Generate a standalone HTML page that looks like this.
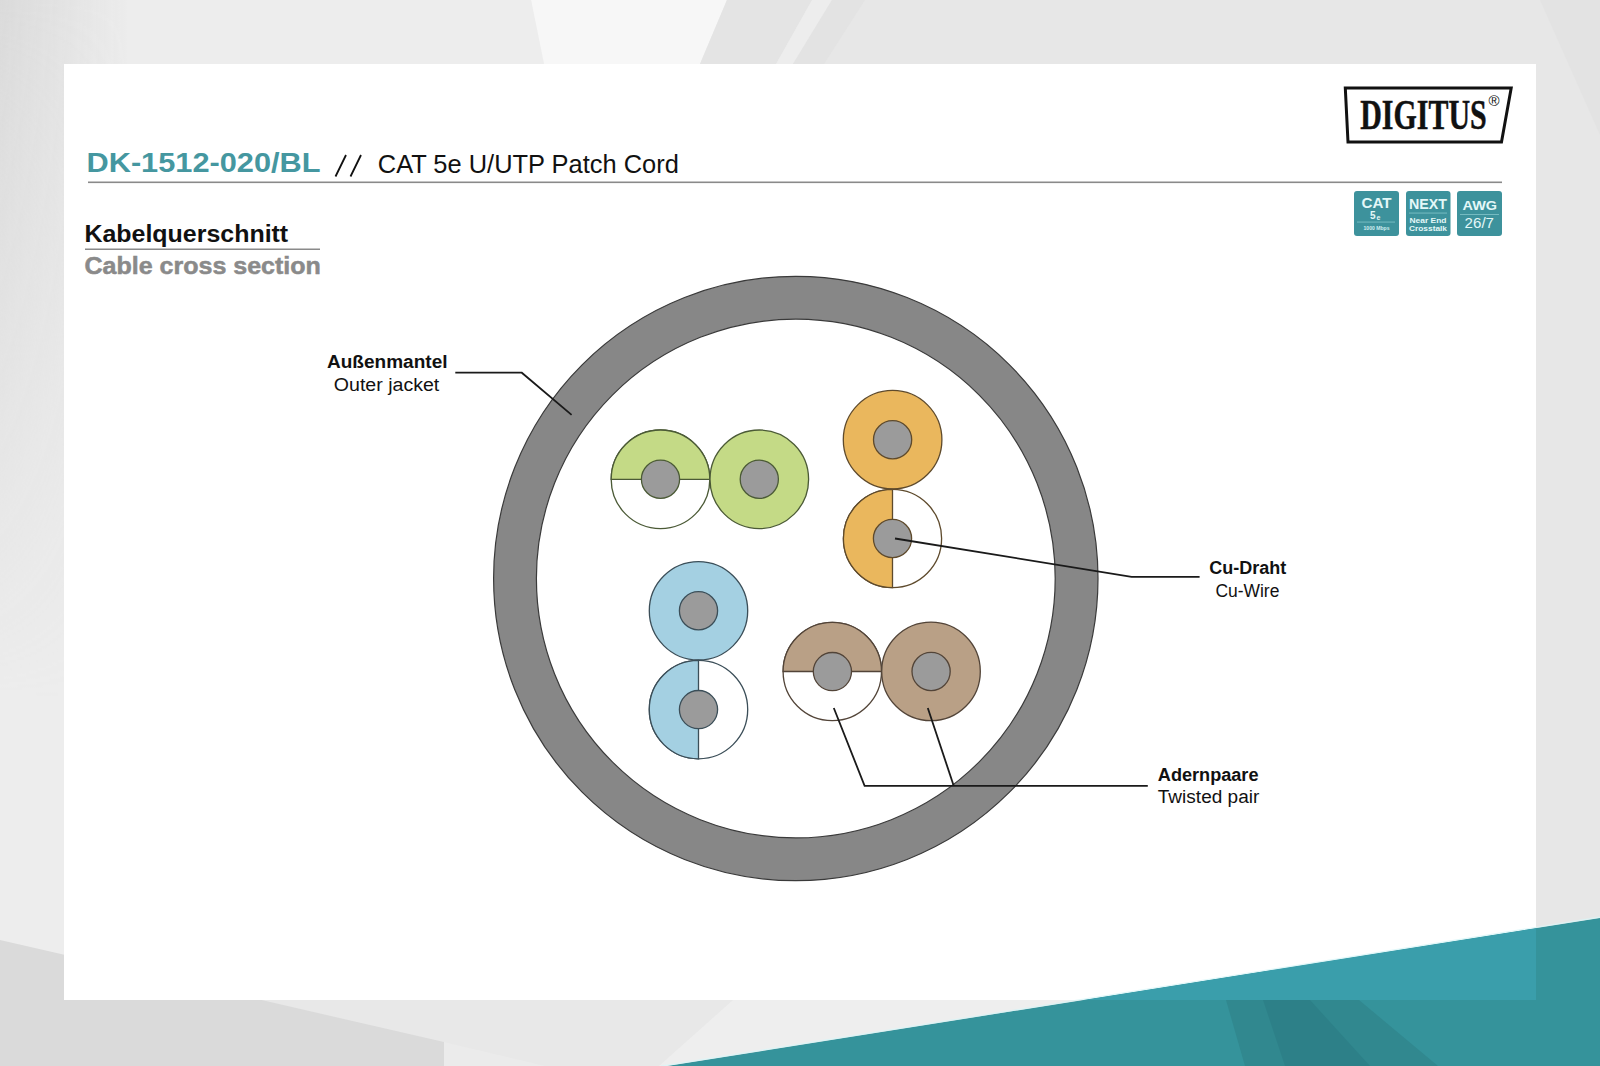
<!DOCTYPE html>
<html><head><meta charset="utf-8">
<style>
html,body{margin:0;padding:0;width:1600px;height:1066px;overflow:hidden;background:#e6e6e6;}
svg{display:block;position:absolute;left:0;top:0;}
text{font-family:"Liberation Sans",sans-serif;}
.serif{font-family:"Liberation Serif",serif;}
</style></head>
<body>
<svg width="1600" height="1066" viewBox="0 0 1600 1066">
<defs>
  <linearGradient id="lg" gradientUnits="userSpaceOnUse" x1="0" y1="0" x2="130" y2="0">
    <stop offset="0" stop-color="#c4c4c4" stop-opacity="0.45"/>
    <stop offset="1" stop-color="#c4c4c4" stop-opacity="0"/>
  </linearGradient>
  <linearGradient id="lgv" gradientUnits="userSpaceOnUse" x1="0" y1="0" x2="0" y2="700">
    <stop offset="0" stop-color="#fff" stop-opacity="1"/>
    <stop offset="1" stop-color="#fff" stop-opacity="0"/>
  </linearGradient>
  <mask id="mv"><rect x="0" y="0" width="200" height="1066" fill="url(#lgv)"/></mask>
  <clipPath id="panelclip"><rect x="64" y="64" width="1472" height="936"/></clipPath>
</defs>
<!-- background -->
<rect x="0" y="0" width="1600" height="1066" fill="#e7e7e7"/>
<polygon points="0,0 531,0 560,140 0,140" fill="#ededed"/>
<rect x="0" y="0" width="64" height="1000" fill="#ededed"/>
<rect x="0" y="0" width="140" height="1000" fill="url(#lg)" mask="url(#mv)"/>
<polygon points="531,0 727,0 700,64 544,64" fill="#f7f7f7"/>
<polygon points="727,0 812,0 776,64 700,64" fill="#e4e4e4"/>
<polygon points="812,0 832,0 793,64 776,64" fill="#ededed"/>
<polygon points="832,0 865,0 824,64 793,64" fill="#e3e3e3"/>
<polygon points="1540,0 1600,0 1600,135" fill="#e3e3e3"/>
<polygon points="0,990 1600,990 1600,1066 0,1066" fill="#e8e8e8"/>
<polygon points="0,940 444,1042 444,1066 0,1066" fill="#dadada"/>
<polygon points="444,1042 545,1066 444,1066" fill="#ebebeb"/>
<polygon points="733,1000 1074,1000 667,1066 659,1066" fill="#eeeeee"/>
<!-- panel -->
<rect x="64" y="64" width="1472" height="936" fill="#ffffff"/>
<!-- teal band -->
<polygon points="661,1067 1600,918 1600,1066" fill="#35939b"/>
<polygon points="1226,1000 1359,1000 1438,1066 1245,1066" fill="#31888f"/>
<polygon points="1263,1000 1310,1000 1370,1066 1285,1066" fill="#2d8088"/>
<polygon points="661,1067 1600,918 1600,1066" fill="#3a9eab" clip-path="url(#panelclip)"/>
<line x1="661" y1="1066.2" x2="1600" y2="917.2" stroke="#d9f6f8" stroke-width="1.2" opacity="0.8"/>

<!-- logo -->
<polygon points="1345.3,88 1511.2,88 1501.5,142 1348,142" fill="none" stroke="#111" stroke-width="3"/>
<text class="serif" x="1360.2" y="128.8" font-size="42" font-weight="bold" fill="#111" stroke="#111" stroke-width="0.5" textLength="126.5" lengthAdjust="spacingAndGlyphs">DIGITUS</text>
<text x="1488.5" y="105.5" font-size="15" fill="#111">®</text>

<!-- title -->
<text x="86.5" y="172.3" font-size="28" font-weight="bold" fill="#4597a0" textLength="234" lengthAdjust="spacingAndGlyphs">DK-1512-020/BL</text>
<path d="M335.5,176.5 L346,155 M350.5,176.5 L361,155" stroke="#111" stroke-width="1.8" fill="none"/>
<text x="377.8" y="172.5" font-size="25" fill="#111" textLength="301" lengthAdjust="spacingAndGlyphs">CAT 5e U/UTP Patch Cord</text>
<rect x="88" y="181.5" width="1414" height="1.6" fill="#8a8a8a"/>

<!-- badges -->
<g>
  <rect x="1354" y="191" width="45" height="45" rx="3" fill="#3d929c"/>
  <rect x="1406" y="191" width="44.5" height="45" rx="3" fill="#3d929c"/>
  <rect x="1457" y="191" width="45" height="45" rx="3" fill="#3d929c"/>
  <g fill="#e4f8f8" font-weight="bold">
  <text x="1361.5" y="207.9" font-size="14" textLength="30" lengthAdjust="spacingAndGlyphs">CAT</text>
  <text x="1370" y="218.7" font-size="10">5</text><text x="1376.5" y="219.5" font-size="7">e</text>
  <rect x="1357" y="221.6" width="38" height="0.9" fill="#7cc0c6"/>
  <text x="1363.5" y="230.4" font-size="4.5" textLength="26" lengthAdjust="spacingAndGlyphs" fill="#cfeef0">1000 Mbps</text>
  <text x="1409" y="208.5" font-size="14.5" textLength="38" lengthAdjust="spacingAndGlyphs">NEXT</text>
  <rect x="1409" y="212.6" width="38" height="0.9" fill="#7cc0c6"/>
  <text x="1409.5" y="222.6" font-size="7" textLength="37" lengthAdjust="spacingAndGlyphs">Near End</text>
  <text x="1409" y="230.9" font-size="7.5" textLength="38" lengthAdjust="spacingAndGlyphs">Crosstalk</text>
  <text x="1462.5" y="210" font-size="13.5" textLength="34.5" lengthAdjust="spacingAndGlyphs">AWG</text>
  <rect x="1460" y="214" width="39" height="0.9" fill="#7cc0c6"/>
  <text x="1464.6" y="228.3" font-size="14.5" textLength="29.4" lengthAdjust="spacingAndGlyphs" font-weight="normal">26/7</text>
  </g>
</g>

<!-- section heading -->
<text x="84.4" y="241.7" font-size="23" font-weight="bold" fill="#111" textLength="203.8" lengthAdjust="spacingAndGlyphs">Kabelquerschnitt</text>
<rect x="85" y="248.5" width="235" height="1.5" fill="#8a8a8a"/>
<text x="84.4" y="273.7" font-size="23" font-weight="bold" fill="#8a8a8a" stroke="#8a8a8a" stroke-width="0.5" textLength="236.5" lengthAdjust="spacingAndGlyphs">Cable cross section</text>


<!-- cable diagram -->
<g>
  <circle cx="795.8" cy="578.5" r="280.8" fill="none" stroke="#878787" stroke-width="42.7"/>
  <circle cx="795.8" cy="578.5" r="302.2" fill="none" stroke="#3a3a3a" stroke-width="1.2"/>
  <circle cx="795.8" cy="578.5" r="259.4" fill="none" stroke="#3a3a3a" stroke-width="1.2"/>
</g>
<g stroke-width="1.3">
  <!-- green half -->
  <circle cx="660.5" cy="479.3" r="49.3" fill="#ffffff" stroke="#4b5a36"/>
  <path d="M611.2,479.3 A49.3,49.3 0 0 1 709.8,479.3 Z" fill="#c4da86" stroke="#4b5a36"/>
  <circle cx="660.5" cy="479.3" r="19.1" fill="#9b9b9b" stroke="#4b5a36"/>
  <!-- green full -->
  <circle cx="759.3" cy="479.3" r="49.3" fill="#c4da86" stroke="#4b5a36"/>
  <circle cx="759.3" cy="479.3" r="19.1" fill="#9b9b9b" stroke="#4b5a36"/>
  <!-- orange full -->
  <circle cx="892.6" cy="439.7" r="49.3" fill="#eab75d" stroke="#5e4a2c"/>
  <circle cx="892.6" cy="439.7" r="19.1" fill="#9b9b9b" stroke="#5e4a2c"/>
  <!-- orange half -->
  <circle cx="892.5" cy="538.5" r="49.1" fill="#ffffff" stroke="#5e4a2c"/>
  <path d="M892.5,489.4 A49.1,49.1 0 0 0 892.5,587.6 Z" fill="#eab75d" stroke="#5e4a2c"/>
  <circle cx="892.5" cy="538.5" r="19.1" fill="#9b9b9b" stroke="#5e4a2c"/>
  <!-- blue full -->
  <circle cx="698.5" cy="610.8" r="49.2" fill="#a4d0e2" stroke="#3b4e58"/>
  <circle cx="698.5" cy="610.8" r="19.1" fill="#9b9b9b" stroke="#3b4e58"/>
  <!-- blue half -->
  <circle cx="698.5" cy="709.6" r="49.2" fill="#ffffff" stroke="#3b4e58"/>
  <path d="M698.5,660.4 A49.2,49.2 0 0 0 698.5,758.8 Z" fill="#a4d0e2" stroke="#3b4e58"/>
  <circle cx="698.5" cy="709.6" r="19.1" fill="#9b9b9b" stroke="#3b4e58"/>
  <!-- brown half -->
  <circle cx="832.3" cy="671.5" r="49.2" fill="#ffffff" stroke="#524438"/>
  <path d="M783.1,671.5 A49.2,49.2 0 0 1 881.5,671.5 Z" fill="#b9a086" stroke="#524438"/>
  <circle cx="832.4" cy="671.6" r="19.1" fill="#9b9b9b" stroke="#524438"/>
  <!-- brown full -->
  <circle cx="931" cy="671.4" r="49.3" fill="#b9a086" stroke="#524438"/>
  <circle cx="931.1" cy="671.5" r="19.1" fill="#9b9b9b" stroke="#524438"/>
</g>
<!-- leaders -->
<g stroke="#1a1a1a" stroke-width="1.8" fill="none" stroke-linejoin="miter">
  <polyline points="455.3,372.7 521.8,372.7 571.6,414.9"/>
  <polyline points="895,538.5 1131.6,576.8 1199.6,576.8"/>
  <polyline points="833.8,708 864.6,785.8 1147.8,785.8"/>
  <polyline points="927.8,708 953.7,785.8"/>
</g>
<!-- labels -->
<g fill="#111">
  <text x="327" y="367.7" font-size="18" font-weight="bold" textLength="120.5" lengthAdjust="spacingAndGlyphs">Außenmantel</text>
  <text x="333.8" y="390.8" font-size="18" textLength="105.5" lengthAdjust="spacingAndGlyphs">Outer jacket</text>
  <text x="1209.2" y="573.7" font-size="18" font-weight="bold" textLength="77" lengthAdjust="spacingAndGlyphs">Cu-Draht</text>
  <text x="1215.4" y="596.6" font-size="18" textLength="64" lengthAdjust="spacingAndGlyphs">Cu-Wire</text>
  <text x="1157.8" y="780.5" font-size="18" font-weight="bold" textLength="100.7" lengthAdjust="spacingAndGlyphs">Adernpaare</text>
  <text x="1157.8" y="803" font-size="18" textLength="101.5" lengthAdjust="spacingAndGlyphs">Twisted pair</text>
</g>
</svg>
</body></html>
